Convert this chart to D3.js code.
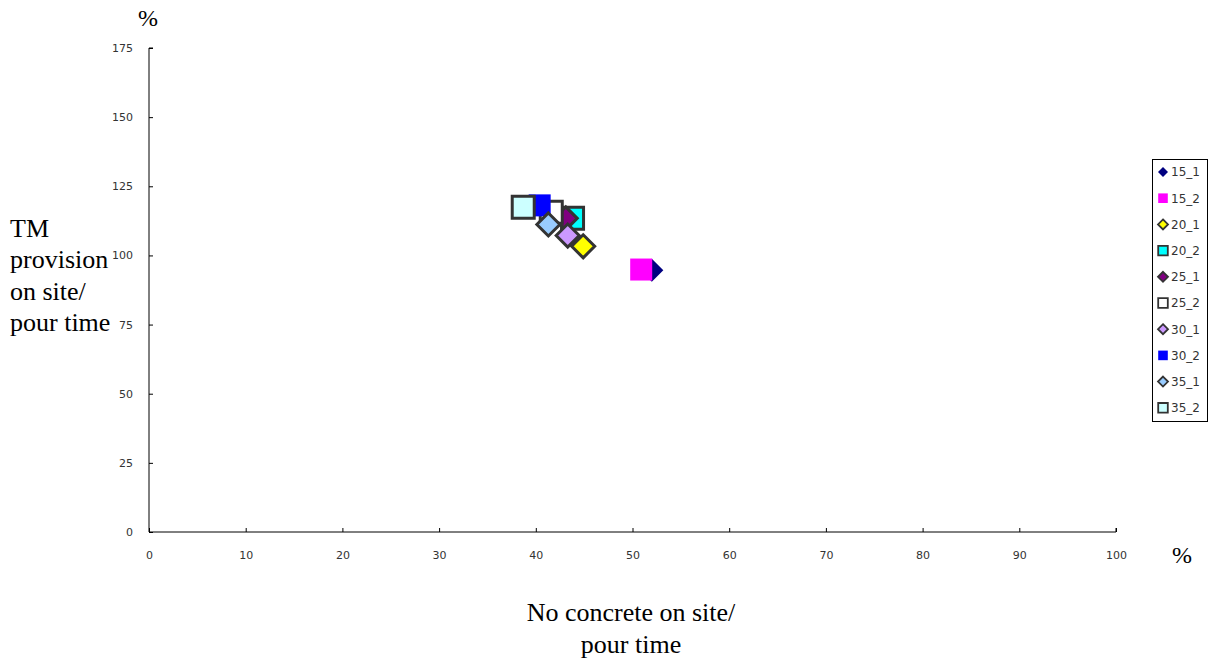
<!DOCTYPE html>
<html>
<head>
<meta charset="utf-8">
<script src="https://cdn.jsdelivr.net/npm/d3@7"></script>
<style>
  html, body { margin: 0; padding: 0; background: #fff; }
  svg { display: block; }
</style>
</head>
<body>
<svg id="chart" width="1210" height="664"></svg>
<script>
// Series names, in drawing order
const seriesNames = ["15_1", "15_2", "20_1", "20_2", "25_1", "25_2", "30_1", "30_2", "35_1", "35_2"];
// No concrete on site / pour time (%)
const xValues = [52.0, 50.9, 44.9, 43.8, 43.1, 41.6, 43.3, 40.4, 41.3, 38.7];
// TM provision on site / pour time (%)
const yValues = [94.6, 94.9, 103.3, 113.4, 113.4, 115.6, 107.2, 118.1, 111.2, 117.4];
// Marker shape per series
const shapes = ["diamond", "square", "diamond", "square", "diamond", "square", "diamond", "square", "diamond", "square"];
const fills = ["#000080", "#FF00FF", "#FFFF00", "#00FFFF", "#800080", "#FFFFFF", "#CC99FF", "#0000FF", "#99CCFF", "#CCFFFF"];
const outlined = [false, false, true, true, true, true, true, false, true, true];

const xTicks = [0, 10, 20, 30, 40, 50, 60, 70, 80, 90, 100];
const yTicks = [0, 25, 50, 75, 100, 125, 150, 175];

const svg = d3.select("#chart");
const plotLeft = 149, plotRight = 1116, plotTop = 48, plotBottom = 532;

const x = d3.scaleLinear().domain([0, 100]).range([plotLeft, plotRight]);
const y = d3.scaleLinear().domain([0, 175]).range([plotBottom, plotTop]);

const tickFont = "'DejaVu Sans', Verdana, sans-serif";
const titleFont = "'Liberation Serif', 'Times New Roman', serif";

// X axis: ticks point up into the plot area
const xAxis = svg.append("g")
  .attr("transform", `translate(0,${plotBottom})`)
  .call(d3.axisTop(x).tickValues(xTicks).tickSize(4).tickFormat(d3.format("d")));
xAxis.select(".domain").attr("d", `M${plotLeft},0H${plotRight}V-4`).attr("stroke", "#000");
xAxis.selectAll(".tick line").attr("stroke", "#000");
xAxis.selectAll(".tick text")
  .attr("y", 23).attr("dy", "0.35em")
  .attr("font-family", tickFont).attr("font-size", 11).attr("fill", "#333");

// Y axis: ticks point right into the plot area
const yAxis = svg.append("g")
  .attr("transform", `translate(${plotLeft},0)`)
  .call(d3.axisRight(y).tickValues(yTicks).tickSize(4).tickFormat(d3.format("d")));
yAxis.select(".domain").attr("d", `M4,${plotTop}H0V${plotBottom}`).attr("stroke", "#000");
yAxis.selectAll(".tick line").attr("stroke", "#000");
yAxis.selectAll(".tick text")
  .attr("x", -16).attr("text-anchor", "end")
  .attr("font-family", tickFont).attr("font-size", 11).attr("fill", "#333");

// Marker outlines, centred on the origin
function markerPath(shape, big) {
  if (shape === "diamond") {
    const h = big ? 11.5 : 5;
    return `M0,${-h}L${h},0L0,${h}L${-h},0Z`;
  }
  const s = big ? 11 : 4.8;
  return `M${-s},${-s}H${s}V${s}H${-s}Z`;
}

const points = seriesNames.map((name, i) => ({
  name, x: xValues[i], y: yValues[i], shape: shapes[i], fill: fills[i], outlined: outlined[i]
}));

svg.append("g").selectAll("path")
  .data(points)
  .join("path")
  .attr("transform", d => `translate(${x(d.x)},${y(d.y)})`)
  .attr("d", d => markerPath(d.shape, true))
  .attr("fill", d => d.fill)
  .attr("stroke", d => d.outlined ? "#333" : "none")
  .attr("stroke-width", 3);

// Legend
const legend = svg.append("g");
legend.append("rect")
  .attr("x", 1152.5).attr("y", 159.5).attr("width", 55).attr("height", 262)
  .attr("fill", "#fff").attr("stroke", "#000").attr("stroke-width", 1);
const item = legend.selectAll("g.item")
  .data(points)
  .join("g")
  .attr("class", "item")
  .attr("transform", (d, i) => `translate(1163,${172 + i * 26.2})`);
item.append("path")
  .attr("d", d => markerPath(d.shape, false))
  .attr("fill", d => d.fill)
  .attr("stroke", d => d.outlined ? "#333" : "none")
  .attr("stroke-width", 1.8);
item.append("text")
  .attr("x", 8).attr("dy", "0.36em")
  .attr("font-family", tickFont).attr("font-size", 12).attr("fill", "#333")
  .text(d => d.name);

// Axis titles
svg.append("text")
  .attr("x", 148).attr("y", 26).attr("text-anchor", "middle")
  .attr("font-family", titleFont).attr("font-size", 24)
  .text("%");
svg.append("text")
  .attr("x", 1182).attr("y", 563).attr("text-anchor", "middle")
  .attr("font-family", titleFont).attr("font-size", 24)
  .text("%");

const yTitle = svg.append("text")
  .attr("font-family", titleFont).attr("font-size", 26);
["TM", "provision", "on site/", "pour time"].forEach((t, i) => {
  yTitle.append("tspan").attr("x", 10).attr("y", 237 + i * 31.3).text(t);
});

const xTitle = svg.append("text")
  .attr("text-anchor", "middle")
  .attr("font-family", titleFont).attr("font-size", 26);
["No concrete on site/", "pour time"].forEach((t, i) => {
  xTitle.append("tspan").attr("x", 631).attr("y", 621 + i * 32).text(t);
});
</script>
</body>
</html>
